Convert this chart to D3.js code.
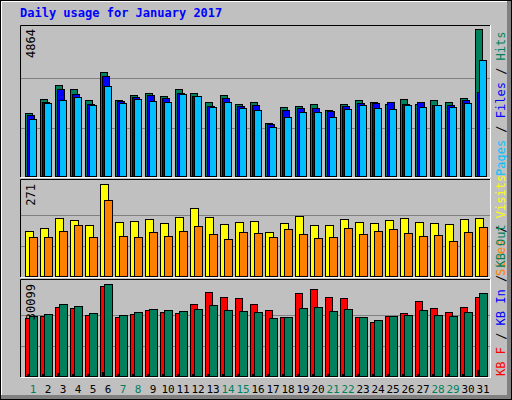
<!DOCTYPE html>
<html>
<head>
<meta charset="utf-8">
<style>body{margin:0;background:#c0c0c0}text{font-family:"DejaVu Sans Mono",monospace}</style>
</head>
<body>
<svg id="chart" width="512" height="400"></svg>
<script src="https://d3js.org/d3.v7.min.js"></script>
<script>
var days = d3.range(1, 32);
var weekends = [1, 7, 8, 14, 15, 21, 22, 28, 29];
var hits  = [2081,2542,3002,2870,2509,3429,2509,2673,2739,2640,2870,2739,2443,2673,2377,2443,1753,2279,2311,2377,2180,2377,2509,2443,2377,2542,2377,2509,2443,2574,4864];
var files = [2016,2443,2870,2706,2377,3297,2476,2607,2673,2574,2739,2640,2311,2574,2311,2344,1720,2180,2246,2246,2147,2311,2410,2410,2443,2377,2443,2344,2344,2509,2783];
var pages = [1884,2410,2509,2607,2344,2969,2410,2542,2476,2443,2706,2640,2279,2443,2246,2180,1621,1950,2114,2114,1950,2213,2344,2246,2213,2344,2279,2344,2279,2410,3823];
var visits = [133,141,171,165,150,271,159,162,168,156,174,200,174,153,159,162,130,156,177,150,150,168,159,156,165,171,159,156,153,168,171];
var sites  = [115,115,133,150,115,224,118,115,130,118,133,147,124,109,130,127,115,138,124,112,115,141,124,133,138,127,118,121,103,130,144];
var kbF   = [18853,19514,22491,22160,19845,29437,19184,20176,21499,20837,20507,23483,27452,25799,25468,23483,21499,19184,27122,28445,25799,25468,19184,17530,19514,20507,24476,22160,20837,22491,25799];
var kbIn  = [600,600,1000,800,600,1300,600,600,700,600,800,600,600,600,600,600,600,600,600,600,600,600,600,600,600,600,600,600,600,600,1985];
var kbOut = [19514,20176,23483,22822,20507,30099,19845,20837,21830,21499,21168,21830,23153,21499,21168,20837,18853,19184,22160,22491,21168,21830,19184,18191,19514,19845,21499,19845,19514,20837,27122];

var svg = d3.select("#chart");
var x = d3.scaleLinear().domain([1, 31]).range([25, 475]);

// outer frame
svg.append("rect").attr("x", 0.5).attr("y", 0.5).attr("width", 511).attr("height", 399).attr("fill", "#c0c0c0").attr("stroke", "#000");
svg.append("rect").attr("x", 507).attr("y", 1).attr("width", 4).attr("height", 398).attr("fill", "#808080");
svg.append("rect").attr("x", 1).attr("y", 395).attr("width", 510).attr("height", 4).attr("fill", "#808080");
svg.append("path").attr("d", "M1.5,395V1.5H507").attr("stroke", "#fff").attr("fill", "none");

svg.append("text").attr("x", 20).attr("y", 17).attr("fill", "#0000ff").attr("font-weight", "bold")
  .attr("font-size", 12).text("Daily usage for January 2017");

function panel(y0, y1, max, top, series, label, legend) {
  var y = d3.scaleLinear().domain([0, max]).range([y1 - 1, top]);
  svg.append("path").attr("d", "M20.5," + y1 + "V" + (y0 + 0.5) + "H491").attr("stroke", "#000").attr("fill", "none");
  svg.append("path").attr("d", "M20.5," + (y1 + 0.5) + "H490.5V" + y0).attr("stroke", "#fff").attr("fill", "none");
  [y1 - (y1 - top) / 3, y1 - 2 * (y1 - top) / 3].forEach(function (g) {
    svg.append("line").attr("x1", 21).attr("x2", 490).attr("y1", Math.round(g) + 0.5).attr("y2", Math.round(g) + 0.5).attr("stroke", "#808080");
  });
  series.forEach(function (s) {
    svg.append("g").selectAll("rect").data(s.values).enter().append("rect")
      .attr("x", function (d, i) { return x(days[i]) + s.dx + 0.5; })
      .attr("y", function (d) { return Math.round(y(d)) + 0.5; })
      .attr("width", s.w)
      .attr("height", function (d) { return Math.max(0, y1 - 1 - Math.round(y(d))); })
      .attr("fill", s.color).attr("stroke", "#000");
  });
  svg.append("text").attr("transform", "translate(35," + (top) + ") rotate(-90)")
    .attr("text-anchor", "end").attr("font-size", 12).text(label);
  var t = svg.append("text").attr("transform", "translate(505," + (y1 - 1) + ") rotate(-90)").attr("font-size", 12);
  legend.forEach(function (p, i) {
    if (i) t.append("tspan").attr("fill", "#000").text(" / ");
    t.append("tspan").attr("fill", p[1]).text(p[0]);
  });
}

panel(25, 177, 4864, 29, [
  { values: hits, color: "#00805c", dx: 0, w: 7 },
  { values: files, color: "#0000ff", dx: 2, w: 7 },
  { values: pages, color: "#00c0ff", dx: 4, w: 7 }
], "4864", [["Pages", "#00c0ff"], ["Files", "#0000ff"], ["Hits", "#00805c"]]);

panel(179, 277, 271, 184, [
  { values: visits, color: "#ffff00", dx: 0, w: 8 },
  { values: sites, color: "#ff8000", dx: 4, w: 8 }
], "271", [["Sites", "#ff8000"], ["Visits", "#ffff00"]]);

panel(279, 377, 30099, 284, [
  { values: kbF, color: "#ff0000", dx: 0, w: 7 },
  { values: kbOut, color: "#00805c", dx: 4, w: 8 },
  { values: kbIn, color: "#0000ff", dx: 2, w: 1 }
], "30099", [["KB F", "#ff0000"], ["KB In", "#0000ff"], ["KB Out", "#00805c"]]);

svg.append("g").selectAll("text").data(days).enter().append("text")
  .attr("x", function (d) { return x(d) + 8; }).attr("y", 393)
  .attr("text-anchor", "middle").attr("font-size", 11)
  .attr("fill", function (d) { return weekends.indexOf(d) >= 0 ? "#00805c" : "#000"; })
  .text(function (d) { return d; });
</script>
</body>
</html>
